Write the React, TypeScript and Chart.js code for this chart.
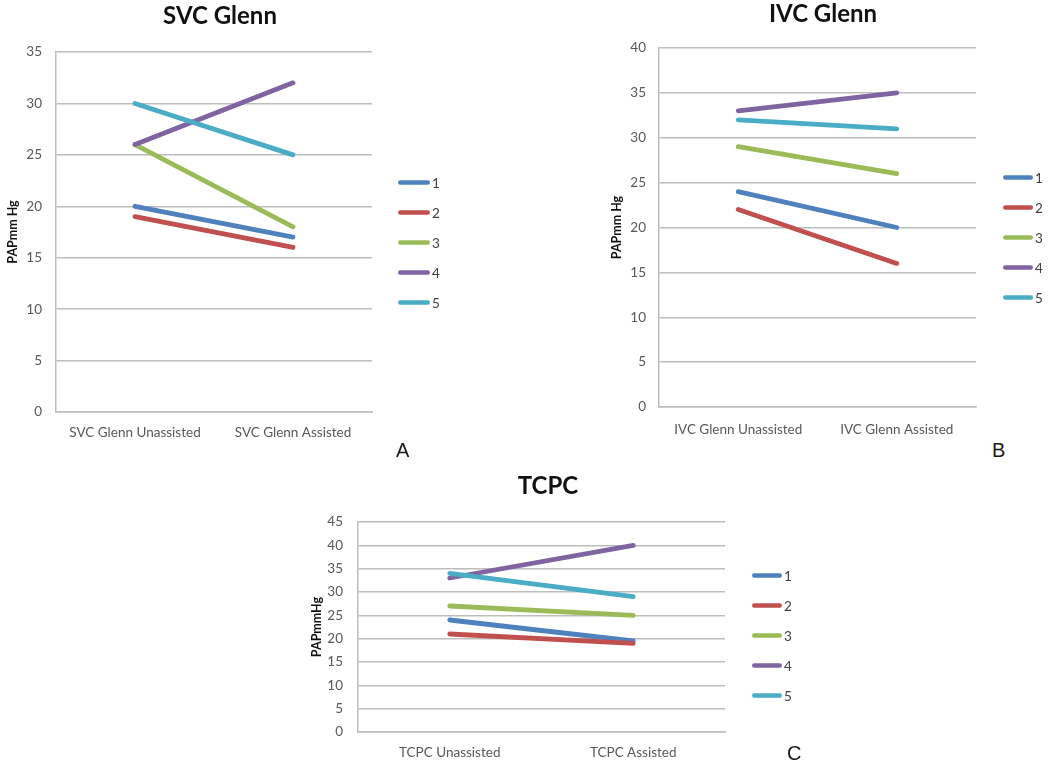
import React, { useEffect, useRef } from 'react';
import { Chart, registerables, layouts } from 'chart.js';

Chart.register(...registerables);

const FONT = 'Lato, "Open Sans", sans-serif';
const GRID = '#bdbdbd';

// Series (patients) shared by all three panels
const patientLabels = ['1', '2', '3', '4', '5'];
const patientColors = ['#4F81BD', '#C0504D', '#9BBB59', '#8064A2', '#4BACC6'];

// Panel A – SVC Glenn
const svcCategories = ['SVC Glenn Unassisted', 'SVC Glenn Assisted'];
const svcPatient1 = [20, 17];
const svcPatient2 = [19, 16];
const svcPatient3 = [26, 18];
const svcPatient4 = [26, 32];
const svcPatient5 = [30, 25];
const svcYMax = 35;

// Panel B – IVC Glenn
const ivcCategories = ['IVC Glenn Unassisted', 'IVC Glenn Assisted'];
const ivcPatient1 = [24, 20];
const ivcPatient2 = [22, 16];
const ivcPatient3 = [29, 26];
const ivcPatient4 = [33, 35];
const ivcPatient5 = [32, 31];
const ivcYMax = 40;

// Panel C – TCPC
const tcpcCategories = ['TCPC Unassisted', 'TCPC Assisted'];
const tcpcPatient1 = [24, 19.5];
const tcpcPatient2 = [21, 19];
const tcpcPatient3 = [27, 25];
const tcpcPatient4 = [33, 40];
const tcpcPatient5 = [34, 29];
const tcpcYMax = 45;

const yStep = 5;

type Spec = {
  title: string;
  yTitle: string;
  categories: string[];
  series: number[][];
  yMax: number;
  left: number;
  top: number;
  width: number;
  height: number;
  padRight: number;
  titlePadTop: number;
  titlePadBottom: number;
  yAxisWidth: number;
  yTitleOffset: number;
  yTickPad: number;
  xAxisHeight: number;
  xTickPad: number;
  legendWidth: number;
  legendLineStart: number;
  legendLineLen: number;
  legendShift: number;
};

const TITLE_SIZE = 24;
const Y_TITLE_SIZE = 12.5;
const TICK_SIZE = 13.5;

function makeSideLegend(spec: Spec) {
  return {
    id: 'sideLegend',
    beforeInit(chart: any) {
      const box: any = {
        position: 'right',
        weight: 10,
        fullSize: false,
        options: {},
        left: 0,
        top: 0,
        right: 0,
        bottom: 0,
        width: 0,
        height: 0,
        isHorizontal() {
          return false;
        },
        update(_maxWidth: number, maxHeight: number) {
          box.width = spec.legendWidth;
          box.height = maxHeight;
        },
        draw() {
          const ctx = chart.ctx;
          const area = chart.chartArea;
          const ds = chart.data.datasets;
          const n = ds.length;
          const cy = (area.top + area.bottom) / 2 + spec.legendShift;
          const lw = 4.5;
          ctx.save();
          ds.forEach((d: any, i: number) => {
            const y = cy + (i - (n - 1) / 2) * 30;
            const x0 = area.right + spec.legendLineStart;
            ctx.strokeStyle = d.borderColor;
            ctx.lineWidth = lw;
            ctx.lineCap = 'round';
            ctx.beginPath();
            ctx.moveTo(x0 + lw / 2, y);
            ctx.lineTo(x0 + spec.legendLineLen - lw / 2, y);
            ctx.stroke();
            ctx.fillStyle = '#404040';
            ctx.font = `13.5px ${FONT}`;
            ctx.textBaseline = 'middle';
            ctx.textAlign = 'left';
            ctx.fillText(d.label, x0 + spec.legendLineLen + 2, y + 1);
          });
          ctx.restore();
        },
      };
      layouts.addBox(chart, box);
    },
  };
}

function Panel({ spec }: { spec: Spec }) {
  const ref = useRef<HTMLCanvasElement>(null);
  useEffect(() => {
    const n = spec.series.length;
    const chart = new Chart(ref.current as HTMLCanvasElement, {
      type: 'line',
      data: {
        labels: spec.categories,
        datasets: spec.series.map((vals, i) => ({
          label: patientLabels[i],
          data: vals,
          borderColor: patientColors[i],
          backgroundColor: patientColors[i],
          borderWidth: 4.8,
          borderCapStyle: 'round',
          borderJoinStyle: 'round',
          pointRadius: 0,
          pointHoverRadius: 0,
          tension: 0,
          fill: false,
          order: n - i,
        })),
      } as any,
      options: {
        responsive: false,
        animation: false,
        events: [],
        layout: {
          autoPadding: false,
          padding: { left: 0, top: 0, right: spec.padRight, bottom: 0 },
        },
        plugins: {
          legend: { display: false },
          tooltip: { enabled: false },
          title: {
            display: true,
            text: spec.title,
            color: '#111111',
            font: { family: FONT, size: TITLE_SIZE, weight: 'bold', lineHeight: 1.15 },
            padding: { top: spec.titlePadTop, bottom: spec.titlePadBottom },
          },
        },
        scales: {
          x: {
            type: 'category',
            offset: true,
            grid: { display: false, drawTicks: false },
            border: { display: true, color: GRID, width: 1.5 },
            ticks: {
              color: '#595959',
              font: { family: FONT, size: TICK_SIZE, lineHeight: 1.2 },
              padding: spec.xTickPad,
              maxRotation: 0,
              autoSkip: false,
            },
            afterFit: (s: any) => {
              s.height = spec.xAxisHeight;
            },
          },
          y: {
            min: 0,
            max: spec.yMax,
            ticks: {
              stepSize: yStep,
              color: '#595959',
              font: { family: FONT, size: TICK_SIZE },
              padding: spec.yTickPad,
            },
            grid: { color: GRID, lineWidth: 1.5, drawTicks: false, tickLength: 0 },
            border: { display: true, color: GRID, width: 1.5 },
            title: {
              display: true,
              text: spec.yTitle,
              color: '#111111',
              font: { family: FONT, size: Y_TITLE_SIZE, weight: 'bold', lineHeight: 1.2 },
              padding: { top: spec.yTitleOffset, bottom: 0 },
            },
            afterFit: (s: any) => {
              s.width = spec.yAxisWidth;
            },
          },
        },
      } as any,
      plugins: [makeSideLegend(spec) as any],
    });
    return () => chart.destroy();
  }, [spec]);
  return (
    <canvas
      ref={ref}
      width={spec.width}
      height={spec.height}
      style={{ position: 'absolute', left: spec.left, top: spec.top }}
    />
  );
}

// title block: padTop + 24*1.15 (27.6) + padBottom = chart-area top
const specA: Spec = {
  title: 'SVC Glenn',
  yTitle: 'PAPmm Hg',
  categories: svcCategories,
  series: [svcPatient1, svcPatient2, svcPatient3, svcPatient4, svcPatient5],
  yMax: svcYMax,
  left: 0,
  top: 0,
  width: 450,
  height: 442,
  padRight: 10,
  titlePadTop: 2.7,
  titlePadBottom: 21.7,
  yAxisWidth: 56,
  yTitleOffset: 5.5,
  yTickPad: 14,
  xAxisHeight: 30,
  xTickPad: 12.9,
  legendWidth: 68,
  legendLineStart: 26,
  legendLineLen: 32,
  legendShift: 10.5,
};

const specB: Spec = {
  title: 'IVC Glenn',
  yTitle: 'PAPmm Hg',
  categories: ivcCategories,
  series: [ivcPatient1, ivcPatient2, ivcPatient3, ivcPatient4, ivcPatient5],
  yMax: ivcYMax,
  left: 604,
  top: 0,
  width: 446,
  height: 439,
  padRight: 8,
  titlePadTop: 0,
  titlePadBottom: 20.4,
  yAxisWidth: 55,
  yTitleOffset: 5.5,
  yTickPad: 13,
  xAxisHeight: 32,
  xTickPad: 14.9,
  legendWidth: 66,
  legendLineStart: 27,
  legendLineLen: 30,
  legendShift: 10,
};

const specC: Spec = {
  title: 'TCPC',
  yTitle: 'PAPmmHg',
  categories: tcpcCategories,
  series: [tcpcPatient1, tcpcPatient2, tcpcPatient3, tcpcPatient4, tcpcPatient5],
  yMax: tcpcYMax,
  left: 304,
  top: 460,
  width: 496,
  height: 302,
  padRight: 8,
  titlePadTop: 12.2,
  titlePadBottom: 22.2,
  yAxisWidth: 54,
  yTitleOffset: 5.5,
  yTickPad: 15,
  xAxisHeight: 30,
  xTickPad: 12.9,
  legendWidth: 67,
  legendLineStart: 27,
  legendLineLen: 30,
  legendShift: 8.5,
};

const panelLetters = [
  { text: 'A', x: 403, y: 450 },
  { text: 'B', x: 999, y: 450 },
  { text: 'C', x: 794, y: 753 },
];

export default function App() {
  return (
    <div
      style={{
        position: 'absolute',
        left: 0,
        top: 0,
        width: 1050,
        height: 764,
        background: '#ffffff',
        overflow: 'hidden',
      }}
    >
      <Panel spec={specA} />
      <Panel spec={specB} />
      <Panel spec={specC} />
      {panelLetters.map((l) => (
        <div
          key={l.text}
          style={{
            position: 'absolute',
            left: l.x - 7,
            top: l.y - 10,
            fontFamily: '"Liberation Sans", Arial, sans-serif',
            fontSize: 20,
            lineHeight: '20px',
            color: '#1a1a1a',
          }}
        >
          {l.text}
        </div>
      ))}
    </div>
  );
}
